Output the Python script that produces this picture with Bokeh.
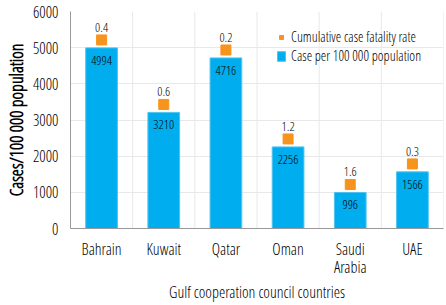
from bokeh.plotting import figure
from bokeh.models import ColumnDataSource, LabelSet, Span, Legend, LegendItem
from bokeh.core.properties import value
from bokeh.embed import file_html
from bokeh.resources import INLINE

countries = ["Bahrain", "Kuwait", "Qatar", "Oman", "Saudi Arabia", "UAE"]
cases_per_100k = [4994, 3210, 4716, 2256, 996, 1566]
fatality_rate = [0.4, 0.6, 0.2, 1.2, 1.6, 0.3]
y_ticks = [0, 1000, 2000, 3000, 4000, 5000, 6000]

FONT = "Open Sans Condensed Light"
TXT = "#000000"
BLUE = "#00AEEF"
ORANGE = "#F7941D"
MARKER_GAP = 220  # data units above bar top for the fatality marker

# factor names wrapped on two lines where the reference wraps them
factors = [c.replace(" ", "\n") for c in countries]

src = ColumnDataSource(dict(
    country=factors,
    cases=cases_per_100k,
    cases_lbl=[str(v) for v in cases_per_100k],
    marker_y=[v + MARKER_GAP for v in cases_per_100k],
    cfr=fatality_rate,
    cfr_lbl=[str(v) for v in fatality_rate],
))

p = figure(x_range=factors, y_range=(0, 6000), width=446, height=305,
           output_backend="svg", toolbar_location=None,
           min_border_left=65, min_border_right=3, min_border_top=11,
           min_border_bottom=77)
p.outline_line_color = None

bars = p.vbar(x="country", top="cases", width=0.51, source=src,
              fill_color=BLUE, line_color="#4FC3F0", line_width=1)
marks = p.scatter(x="country", y="marker_y", source=src, marker="square",
                  size=10, fill_color=ORANGE, line_color=ORANGE)

p.add_layout(LabelSet(x="country", y="cases", text="cases_lbl", source=src,
                      text_align="center", text_baseline="top", y_offset=-8,
                      text_font=value(FONT), text_font_size=value("13px"),
                      text_color=TXT))
p.add_layout(LabelSet(x="country", y="cases", text="cfr_lbl", source=src,
                      text_align="center", text_baseline="bottom", y_offset=16,
                      text_font=value(FONT), text_font_size=value("13px"),
                      text_color=TXT))

# vertical grid at category boundaries
for i in range(1, len(countries) + 1):
    p.add_layout(Span(location=i, dimension="height", line_color="#e8e8e8",
                      line_width=1, level="underlay"))
p.xgrid.grid_line_color = None
p.ygrid.grid_line_color = "#e8e8e8"
p.ygrid.level = "underlay"

p.yaxis.ticker = y_ticks
p.yaxis.axis_label = "Cases/100 000 population"
p.xaxis.axis_label = "Gulf cooperation council countries"
for ax in (p.xaxis[0], p.yaxis[0]):
    ax.axis_line_color = "#999999"
    ax.major_tick_line_color = None
    ax.minor_tick_line_color = None
    ax.major_label_text_font = FONT
    ax.major_label_text_font_size = "16px"
    ax.major_label_text_color = TXT
    ax.axis_label_text_font = FONT
    ax.axis_label_text_font_size = "16px"
    ax.axis_label_text_font_style = "normal"
    ax.axis_label_text_color = TXT
p.yaxis.axis_label_text_font_style = "bold"
p.yaxis.axis_label_text_font_size = "18px"
p.xaxis.major_label_text_line_height = 0.82
p.yaxis.major_label_standoff = 6
p.yaxis.axis_label_standoff = 2
p.xaxis.major_label_standoff = 3
p.xaxis.axis_label_standoff = 0

legend = Legend(items=[
    LegendItem(label="Cumulative case fatality rate", renderers=[marks]),
    LegendItem(label="Case per 100 000 population", renderers=[bars]),
], location=(206, 163))
legend.background_fill_alpha = 0
legend.border_line_color = None
legend.padding = 0
legend.margin = 0
legend.spacing = 0
legend.label_height = 19
legend.glyph_height = 12
legend.glyph_width = 10
legend.label_standoff = 5
legend.label_text_font = FONT
legend.label_text_font_size = "14px"
legend.label_text_color = TXT
p.add_layout(legend)

open("out.html", "w").write(file_html(p, INLINE))
